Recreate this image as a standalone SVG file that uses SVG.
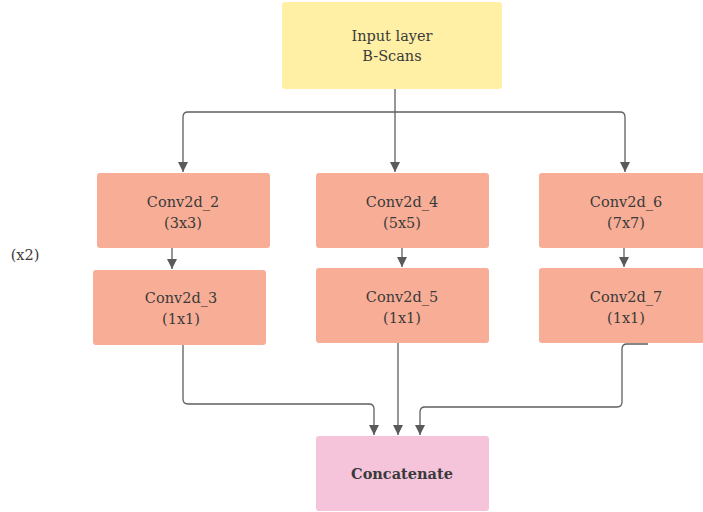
<svg xmlns="http://www.w3.org/2000/svg" width="703" height="512" viewBox="0 0 703 512">
<defs>
<marker id="ah" viewBox="0 0 10 10" refX="10" refY="5" markerWidth="10" markerHeight="10" markerUnits="userSpaceOnUse" orient="auto">
<path d="M0,0 L10,5 L0,10 z" fill="#5a5a5a"/>
</marker>
<style>
.t{font-family:"DejaVu Serif","Liberation Serif",serif;font-size:14.5px;fill:#3a3a3a;text-anchor:middle}
.b{font-weight:bold}
.conv{fill:#f8ae96}
.c{fill:none;stroke:#5f5f5f;stroke-width:1.3}
</style>
</defs>
<rect width="703" height="512" fill="#ffffff"/>
<g id="connectors">
<path class="c" d="M395,89 V172" marker-end="url(#ah)"/>
<path class="c" d="M395,112 H188 Q183,112 183,117 V172" marker-end="url(#ah)"/>
<path class="c" d="M395,112 H620 Q625,112 625,117 V172" marker-end="url(#ah)"/>
<path class="c" d="M172,236 V269" marker-end="url(#ah)"/>
<path class="c" d="M402,248 V267" marker-end="url(#ah)"/>
<path class="c" d="M624,240 V267" marker-end="url(#ah)"/>
<path class="c" d="M183,338 V399 Q183,404 188,404 H369 Q374,404 374,409 V435" marker-end="url(#ah)"/>
<path class="c" d="M398,343 V435" marker-end="url(#ah)"/>
<path class="c" d="M648,344 H627 Q622,344 622,349 V402 Q622,407 617,407 H425 Q420,407 420,412 V435" marker-end="url(#ah)"/>
</g>
<g id="input">
<rect x="282" y="2" width="220" height="87" rx="3" fill="#fff0a6"/>
<text class="t" x="392" y="41">Input layer</text>
<text class="t" x="392" y="61">B-Scans</text>
</g>
<g id="conv2d_2">
<rect class="conv" x="97" y="173" width="173" height="75" rx="3"/>
<text class="t" x="183" y="207">Conv2d_2</text>
<text class="t" x="183" y="228">(3x3)</text>
</g>
<g id="conv2d_3">
<rect class="conv" x="93" y="270" width="173" height="75" rx="3"/>
<text class="t" x="181" y="303">Conv2d_3</text>
<text class="t" x="181" y="324">(1x1)</text>
</g>
<g id="conv2d_4">
<rect class="conv" x="316" y="173" width="173" height="75" rx="3"/>
<text class="t" x="402" y="207">Conv2d_4</text>
<text class="t" x="402" y="228">(5x5)</text>
</g>
<g id="conv2d_5">
<rect class="conv" x="316" y="268" width="173" height="75" rx="3"/>
<text class="t" x="402" y="302">Conv2d_5</text>
<text class="t" x="402" y="323">(1x1)</text>
</g>
<g id="conv2d_6">
<rect class="conv" x="539" y="173" width="170" height="75" rx="3"/>
<text class="t" x="626" y="207">Conv2d_6</text>
<text class="t" x="626" y="228">(7x7)</text>
</g>
<g id="conv2d_7">
<rect class="conv" x="539" y="268" width="170" height="75" rx="3"/>
<text class="t" x="626" y="302">Conv2d_7</text>
<text class="t" x="626" y="323">(1x1)</text>
</g>
<g id="concatenate">
<rect x="316" y="436" width="173" height="75" rx="3" fill="#f5c4da"/>
<text class="t b" x="402" y="479">Concatenate</text>
</g>
<g id="label">
<text class="t" x="25" y="260">(x2)</text>
</g>
</svg>
